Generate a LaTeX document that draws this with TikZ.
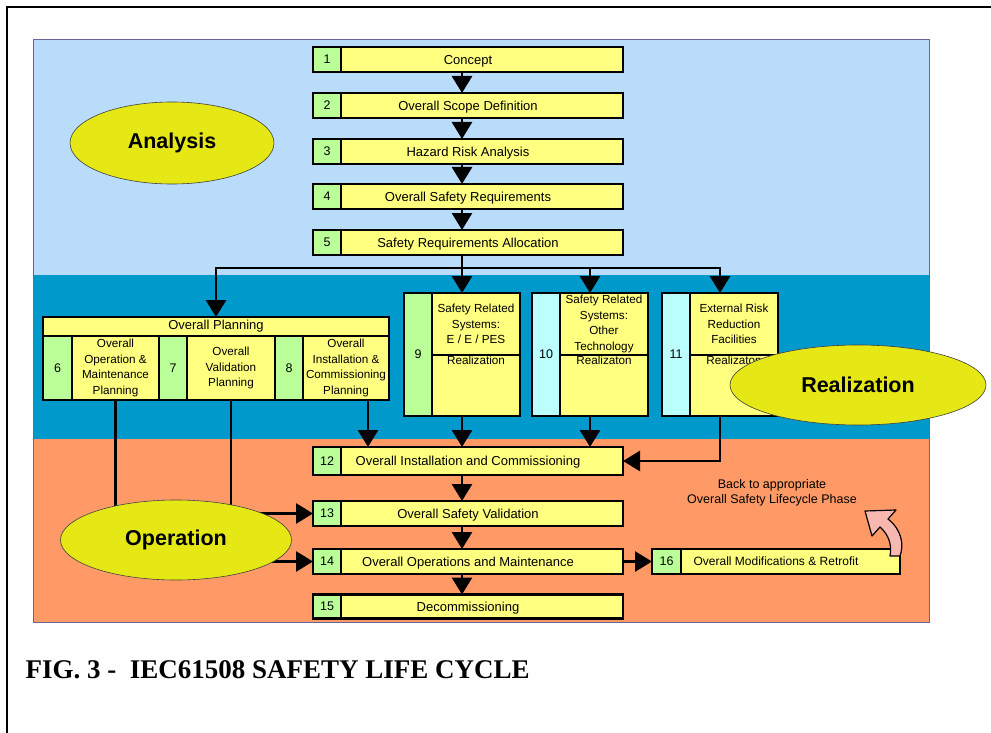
\documentclass[tikz,border=0pt]{standalone}
\usepackage{fontspec}
\setmainfont{Liberation Sans}
\newfontfamily\capfont{Liberation Serif}
\usetikzlibrary{arrows.meta, shapes.geometric, calc}

\definecolor{skyblue}{HTML}{B8DCFA}
\definecolor{midblue}{HTML}{0099CC}
\definecolor{peach}{HTML}{FF9966}
\definecolor{boxyellow}{HTML}{FFFF80}
\definecolor{numgreen}{HTML}{BBFF99}
\definecolor{numcyan}{HTML}{BBFFFF}
\definecolor{blobyellow}{HTML}{E5E815}
\definecolor{backpink}{HTML}{F8B8B0}

\begin{document}
\begin{tikzpicture}[x=1pt, y=-1pt,
  box/.style={draw, line width=2.9pt, fill=boxyellow, inner sep=0pt, outer sep=0pt, align=center, font=\fontsize{13}{15}\selectfont},
  num/.style={box, fill=numgreen, minimum width=28pt, font=\fontsize{12.5}{15}\selectfont},
  small/.style={font=\fontsize{11.7}{15.5}\selectfont},
  link/.style={line width=2.8pt},
  arr/.style={link, -{Triangle[length=17pt, width=20pt]}},
  blob/.style={ellipse, draw=black!75, line width=0.6pt, fill=blobyellow, inner sep=0pt, font=\bfseries\fontsize{21.5}{24}\selectfont}]

	% page and frame
	\useasboundingbox (0,0) rectangle (991,733);
	\draw[line width=2pt] (7,733) -- (7,7) -- (991,7);

	% the three phase bands
	\fill[skyblue] (33,40) rectangle (929,275);
	\fill[midblue] (33,275) rectangle (929,439);
	\fill[peach] (33,439) rectangle (929,622);
	\draw[gray!80!blue, line width=1pt] (33,40) rectangle (929,622);

	% main column of steps
	\foreach \n/\y/\h/\t in {1/59.5/25/Concept, 2/105.5/25/Overall Scope Definition, 3/151.5/25/Hazard Risk Analysis, 4/196.5/25/Overall Safety Requirements, 5/242.5/25/Safety Requirements Allocation, 12/461/28/Overall Installation and Commissioning, 13/513.5/25/Overall Safety Validation, 14/561.5/25/Overall Operations and Maintenance, 15/606.5/24/Decommissioning}
	{
		\node[box, minimum width=310pt, minimum height=\h pt, text depth=0pt] (s\n) at (468,\y) {\t};
		\node[num, anchor=west, minimum height=\h pt] (n\n) at (s\n.west) {\n};
	}

	% realization boxes
	\foreach \n/\x/\c/\t/\r in {9/462/numgreen/{Safety Related\\Systems:\\E / E / PES}/Realization, 10/590/numcyan/{Safety Related\\Systems:\\Other\\Technology}/Realizaton, 11/720/numcyan/{External Risk\\Reduction\\Facilities}/Realizaton}
	{
		\node[box, minimum width=116pt, minimum height=123pt] (r\n) at (\x,354.5) {};
		\node[num, fill=\c, anchor=west, minimum height=123pt] (n\n) at (r\n.west) {\n};
		\node[box, small, anchor=north west, minimum width=88pt, minimum height=62pt] (t\n) at (n\n.north east) {\t};
		\node[small, anchor=north, inner sep=1pt] (q\n) at (t\n.south) {\r};
	}

	% overall planning
	\node[box, minimum width=346pt, minimum height=83pt] (plan) at (216,358.5) {};
	\node[box, anchor=north, minimum width=346pt, minimum height=19pt] (plhd) at (plan.north) {Overall Planning};
	\node[num, anchor=north west, minimum width=29pt, minimum height=64pt] (n6) at (plhd.south west) {6};
	\node[box, small, anchor=north west, minimum width=87pt, minimum height=64pt] (p6) at (n6.north east) {Overall\\Operation \&\\Maintenance\\Planning};
	\node[num, anchor=north west, minimum height=64pt] (n7) at (p6.north east) {7};
	\node[box, small, anchor=north west, minimum width=88pt, minimum height=64pt] (p7) at (n7.north east) {Overall\\Validation\\Planning};
	\node[num, anchor=north west, minimum height=64pt] (n8) at (p7.north east) {8};
	\node[box, small, anchor=north west, minimum width=86pt, minimum height=64pt] (p8) at (n8.north east) {Overall\\Installation \&\\Commissioning\\Planning};

	% modifications and the way back
	\node[box, minimum width=248pt, minimum height=25pt, font=\fontsize{12}{14}\selectfont] (s16) at (776,561.5) {Overall Modifications \& Retrofit};
	\node[num, anchor=west, minimum width=29pt, minimum height=25pt] (n16) at (s16.west) {16};
	\node[align=center, font=\fontsize{12.5}{15}\selectfont] (back) at (772,493) {Back to appropriate\\Overall Safety Lifecycle Phase};
	\filldraw[fill=backpink, draw=black, line width=1.2pt, line join=round] (865,511) -- (896,510) -- (888,519) .. controls (902,530) and (904,545) .. (900,556) -- (890,556) .. controls (892,545) and (889,535) .. (880,527) -- (872,536) -- cycle;

	% connectors
	\foreach \a/\b in {1/2, 2/3, 3/4, 4/5, 12/13, 13/14, 14/15}
		\draw[arr] ([xshift=-6pt]s\a.south) -- ([xshift=-6pt]s\b.north);
	\coordinate (split) at (462,268);
	\draw[link] ([xshift=-6pt]s5.south) -- (split);
	\draw[arr] (split) -- (r9.north);
	\draw[arr] (split) -| (plan.north);
	\draw[arr] (split) -| (r10.north);
	\draw[arr] (split) -| (r11.north);
	\draw[arr] ([xshift=22pt]p8.south) -- ([xshift=22pt]p8.south |- s12.north);
	\draw[arr] (r9.south) -- (r9.south |- s12.north);
	\draw[arr] (r10.south) -- (r10.south |- s12.north);
	\draw[arr] (r11.south) |- (s12.east);
	\draw[arr] (s14.east) -- (s16.west);

	% planning down to operation
	\coordinate (opc) at (176,540);
	\draw[link] (p6.south) -- (p6.south |- opc);
	\draw[link] (p7.south) -- (p7.south |- opc);
	\draw[arr] (s13.west -| opc) -- (s13.west);
	\draw[arr] (s14.west -| opc) -- (s14.west);

	% the phase ellipses
	\node[blob, minimum width=204pt, minimum height=82pt] (ana) at (172,143) {Analysis};
	\node[blob, minimum width=256pt, minimum height=80pt] (rea) at (858,385) {Realization};
	\node[blob, minimum width=231pt, minimum height=80pt] (op) at (opc) {Operation};

	% caption
	\node[anchor=base west, font=\capfont\bfseries\fontsize{27}{30}\selectfont] (cap) at (22,678) {FIG. 3 -\ \ IEC61508 SAFETY LIFE CYCLE};

\end{tikzpicture}
\end{document}
